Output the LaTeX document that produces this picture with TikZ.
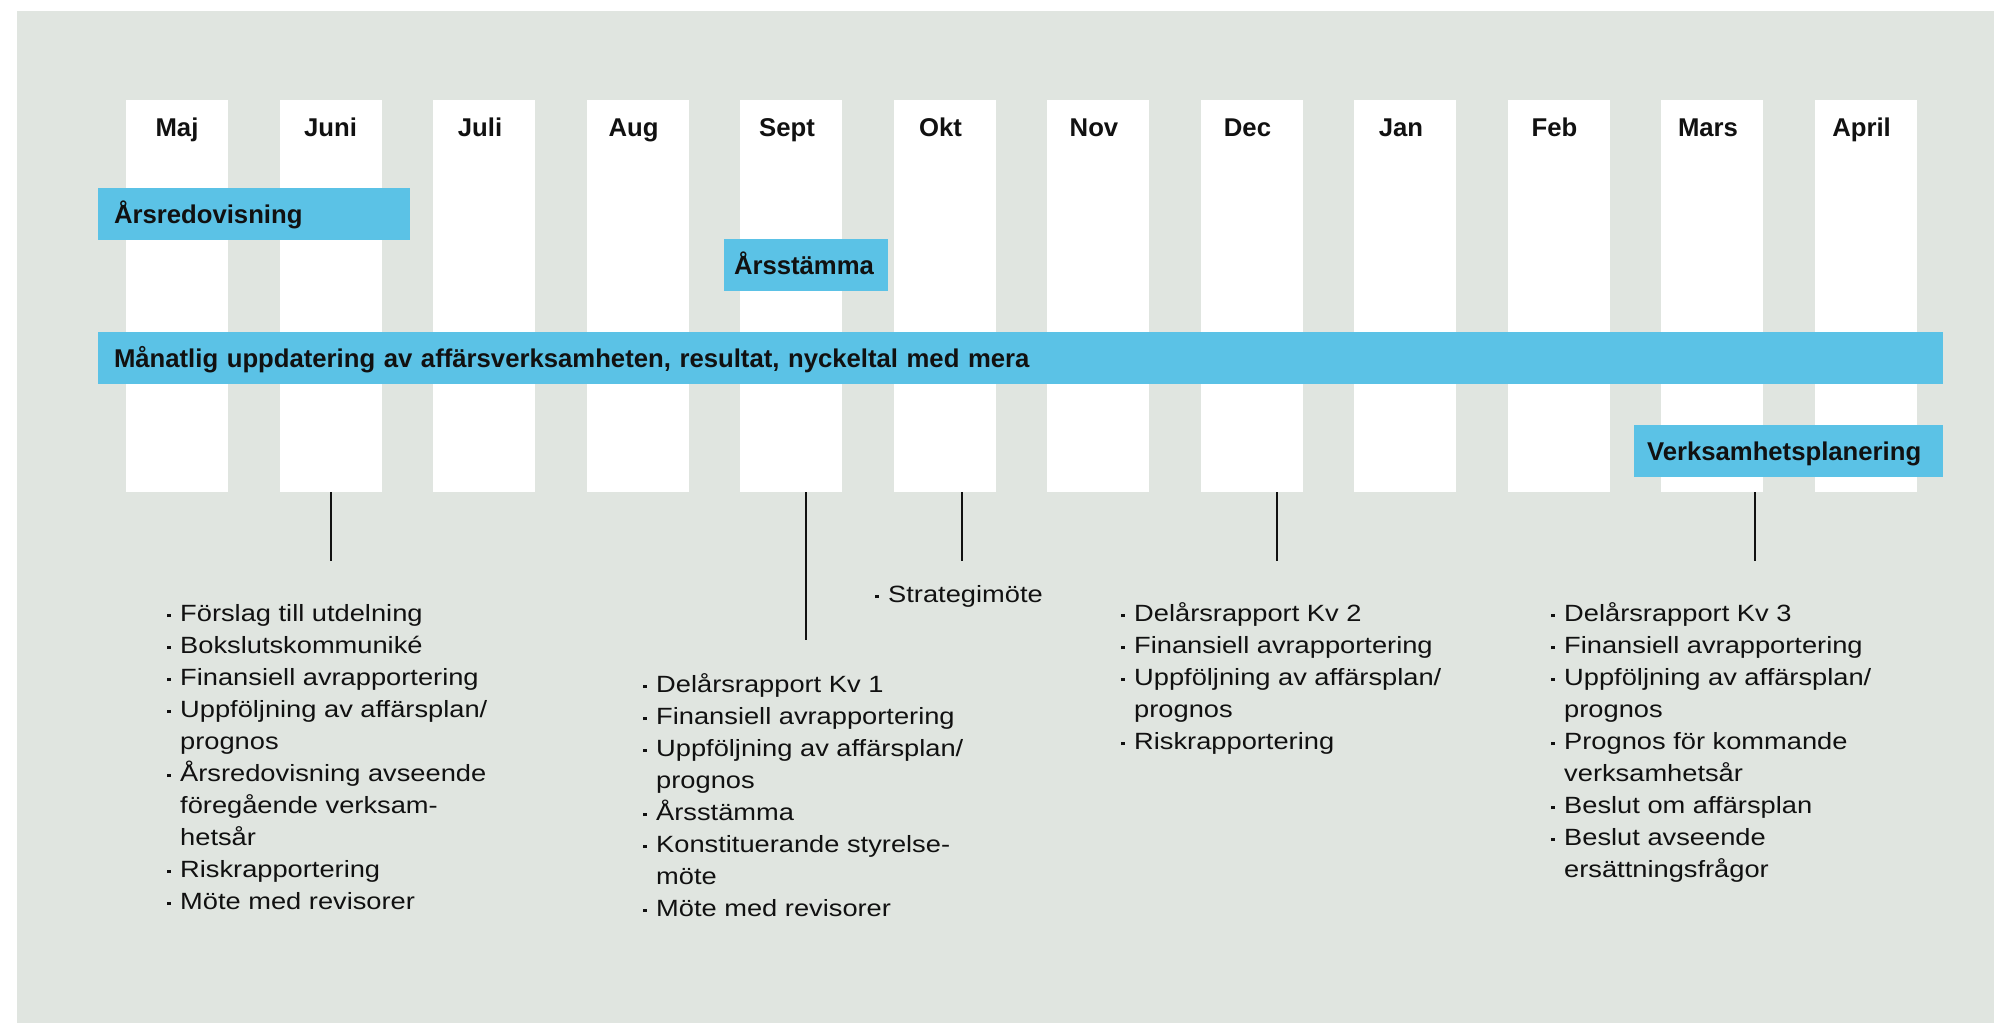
\documentclass[tikz,border=0pt]{standalone}
\usepackage{fontspec}
\setmainfont{Liberation Sans}
\newfontfamily\bodyfont[FakeStretch=1.16]{Liberation Sans}
\usepackage{tikz}
\usetikzlibrary{positioning}
\definecolor{bggrey}{HTML}{E0E5E0}
\definecolor{barblue}{HTML}{5BC2E6}
\definecolor{inkblack}{HTML}{111111}
\tikzset{
  col/.style={fill=white,minimum width=102pt,minimum height=392pt,inner sep=0,outer sep=0,anchor=north west},
  month/.style={font=\bfseries\fontsize{25.7}{30}\selectfont,inner sep=0,text height=18.4pt,text depth=0pt,text=inkblack},
  month left/.style={month,xshift=-4pt},
  bar/.style={fill=barblue,font=\bfseries\fontsize{25.7}{30}\selectfont,minimum height=52pt,inner ysep=0,outer sep=0,
    text height=18.4pt,text depth=0pt,align=left,anchor=north west,text=inkblack},
  items/.style={font=\bodyfont\fontsize{23.5}{32}\selectfont,align=left,inner sep=0,anchor=base west,text=inkblack},
  tick/.style={line width=2pt,inkblack}
}
\newcommand{\bl}{\makebox[13pt][l]{\rule[4.5pt]{3.5pt}{3.5pt}}}
\newcommand{\cn}{\hspace*{13pt}}

\begin{document}
\begin{tikzpicture}[x=1pt, y=-1pt, node distance=51.5pt]

  \useasboundingbox (0,0) rectangle (1994,1023);
  \fill[bggrey] (17,11) rectangle (1994,1023);

  % Month columns
  \node[col] (maj) at (126,100) {};
  \node[col, right=of maj] (juni) {};
  \node[col, right=of juni] (juli) {};
  \node[col, right=of juli] (aug) {};
  \node[col, right=of aug] (sept) {};
  \node[col, right=of sept] (okt) {};
  \node[col, right=of okt] (nov) {};
  \node[col, right=of nov] (dec) {};
  \node[col, right=of dec] (jan) {};
  \node[col, right=of jan] (feb) {};
  \node[col, right=of feb] (mars) {};
  \node[col, right=of mars] (april) {};

  % Month labels
  \node[month, below=17.6pt of maj.north] (maj label) {Maj};
  \node[month, below=17.6pt of juni.north] (juni label) {Juni};
  \node[month left, below=17.6pt of juli.north] (juli label) {Juli};
  \node[month left, below=17.6pt of aug.north] (aug label) {Aug};
  \node[month left, below=17.6pt of sept.north] (sept label) {Sept};
  \node[month left, below=17.6pt of okt.north] (okt label) {Okt};
  \node[month left, below=17.6pt of nov.north] (nov label) {Nov};
  \node[month left, below=17.6pt of dec.north] (dec label) {Dec};
  \node[month left, below=17.6pt of jan.north] (jan label) {Jan};
  \node[month left, below=17.6pt of feb.north] (feb label) {Feb};
  \node[month left, below=17.6pt of mars.north] (mars label) {Mars};
  \node[month left, below=17.6pt of april.north] (april label) {April};

  % Bars
  \node[bar, inner xsep=16pt, text width=280pt] (arsredovisning) at (98,188) {Årsredovisning};
  \node[bar, inner xsep=10pt, text width=144pt] (arsstamma) at (724,239) {Årsstämma};
  \node[bar, inner xsep=16pt, text width=1813pt] (manatlig) at (98,332)
    {Månatlig uppdatering av affärsverksamheten, resultat, nyckeltal med mera};
  \node[bar, inner xsep=13pt, text width=283pt] (planering) at (1634,425) {Verksamhetsplanering};

  % Ticks
  \coordinate (juni tick) at (331,561);
  \coordinate (sept tick) at (806,640);
  \coordinate (okt tick) at (962,561);
  \coordinate (dec tick) at (1277,561);
  \coordinate (mars tick) at (1755,561);
  \draw[tick] (juni tick |- juni.south) -- (juni tick);
  \draw[tick] (sept tick |- sept.south) -- (sept tick);
  \draw[tick] (okt tick |- okt.south) -- (okt tick);
  \draw[tick] (dec tick |- dec.south) -- (dec tick);
  \draw[tick] (mars tick |- mars.south) -- (mars tick);

  % Lists (placed by the baseline of their last line)
  \node[items] (juni list) at (167,909.7) {\bl Förslag till utdelning\\
    \bl Bokslutskommuniké\\
    \bl Finansiell avrapportering\\
    \bl Uppföljning av affärsplan/\\
    \cn prognos\\
    \bl Årsredovisning avseende\\
    \cn föregående verksam-\\
    \cn hetsår\\
    \bl Riskrapportering\\
    \bl Möte med revisorer};
  \node[items] (sept list) at (643,916.5) {\bl Delårsrapport Kv 1\\
    \bl Finansiell avrapportering\\
    \bl Uppföljning av affärsplan/\\
    \cn prognos\\
    \bl Årsstämma\\
    \bl Konstituerande styrelse-\\
    \cn möte\\
    \bl Möte med revisorer};
  \node[items] (okt list) at (875,602.5) {\bl Strategimöte};
  \node[items] (dec list) at (1121,749.7) {\bl Delårsrapport Kv 2\\
    \bl Finansiell avrapportering\\
    \bl Uppföljning av affärsplan/\\
    \cn prognos\\
    \bl Riskrapportering};
  \node[items] (mars list) at (1551,877.7) {\bl Delårsrapport Kv 3\\
    \bl Finansiell avrapportering\\
    \bl Uppföljning av affärsplan/\\
    \cn prognos\\
    \bl Prognos för kommande\\
    \cn verksamhetsår\\
    \bl Beslut om affärsplan\\
    \bl Beslut avseende\\
    \cn ersättningsfrågor};

\end{tikzpicture}
\end{document}
